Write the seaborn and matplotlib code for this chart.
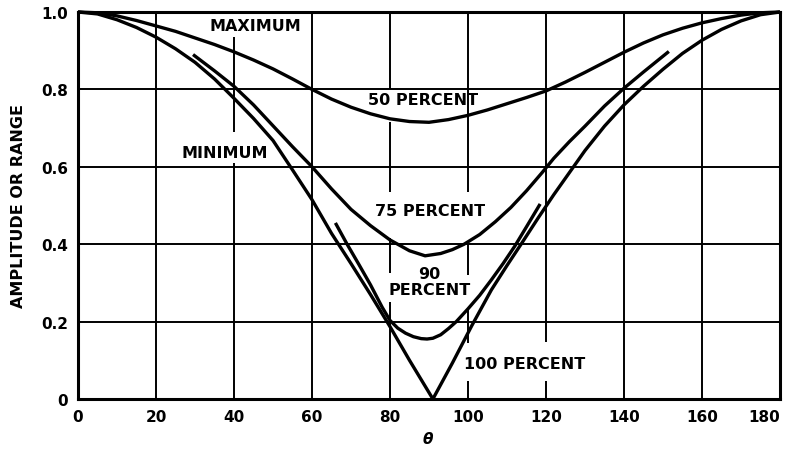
import matplotlib
matplotlib.use("Agg")
import matplotlib.pyplot as plt
import pandas as pd
import seaborn as sns

# Angle (degrees) and relative amplitude for each curve
theta_50 = [0, 5, 10, 15, 20, 25, 30, 35, 40, 45, 50, 55, 60, 65, 70, 75, 80, 85, 90,
            95, 100, 105, 110, 115, 120, 125, 130, 135, 140, 145, 150, 155, 160, 165,
            170, 175, 180]
amp_50 = [1.000, 0.998, 0.990, 0.978, 0.964, 0.950, 0.933, 0.916, 0.897, 0.876, 0.853,
          0.827, 0.800, 0.775, 0.754, 0.737, 0.724, 0.717, 0.715, 0.722, 0.733, 0.747,
          0.763, 0.779, 0.796, 0.819, 0.844, 0.870, 0.896, 0.920, 0.941, 0.958, 0.972,
          0.983, 0.992, 0.998, 1.000]

theta_75 = [29.5, 35, 40, 45, 50, 55, 60, 65, 70, 75, 80, 85, 89, 93, 96, 99, 103, 107,
            111, 115, 119, 122, 126, 130, 135, 140, 145, 151.5]
amp_75 = [0.890, 0.848, 0.808, 0.760, 0.706, 0.652, 0.600, 0.543, 0.490, 0.448, 0.411,
          0.383, 0.370, 0.376, 0.386, 0.400, 0.425, 0.458, 0.495, 0.538, 0.585, 0.622,
          0.665, 0.705, 0.757, 0.803, 0.845, 0.898]

theta_90 = [66, 69, 72, 75, 78, 80, 82, 84, 86, 88, 89.5, 91, 93, 95, 97, 100, 103, 106,
            109, 112, 115, 118.5]
amp_90 = [0.455, 0.400, 0.348, 0.295, 0.237, 0.203, 0.183, 0.170, 0.161, 0.156, 0.155,
          0.157, 0.166, 0.182, 0.200, 0.233, 0.268, 0.308, 0.350, 0.395, 0.445, 0.504]

theta_100 = [0, 5, 10, 15, 20, 25, 30, 35, 40, 45, 50, 55, 60, 65, 70, 75, 80, 85, 91,
             96, 101, 106, 110, 114, 118, 122, 126, 130, 135, 140, 145, 150, 155, 160,
             165, 170, 175, 180]
amp_100 = [1.000, 0.995, 0.980, 0.960, 0.935, 0.905, 0.870, 0.827, 0.777, 0.725, 0.668,
           0.592, 0.515, 0.428, 0.350, 0.270, 0.187, 0.100, 0.000, 0.093, 0.190, 0.282,
           0.345, 0.406, 0.468, 0.528, 0.585, 0.642, 0.705, 0.760, 0.808, 0.852, 0.893,
           0.927, 0.955, 0.977, 0.993, 1.000]

curve_names = ["50 PERCENT", "75 PERCENT", "90 PERCENT", "100 PERCENT"]

x_ticks = [0, 20, 40, 60, 80, 100, 120, 140, 160, 180]
y_ticks = [0, 0.2, 0.4, 0.6, 0.8, 1.0]
y_tick_labels = ["0", "0.2", "0.4", "0.6", "0.8", "1.0"]

frames = []
for name, th, amp in zip(curve_names,
                         [theta_50, theta_75, theta_90, theta_100],
                         [amp_50, amp_75, amp_90, amp_100]):
    frames.append(pd.DataFrame({"theta": th, "amplitude": amp, "curve": name}))
df = pd.concat(frames, ignore_index=True)

sns.set_theme(style="white")
plt.rcParams["font.family"] = ["DejaVu Sans"]

fig = plt.figure(figsize=(7.91, 4.52), dpi=100)
ax = fig.add_axes([78 / 791, 52 / 452, 702 / 791, 387 / 452])

# Grid drawn as separate segments so it stays clear of the curve labels
ink = "black"
for y in [0.2, 0.4, 0.6, 0.8]:
    ax.hlines(y, 0, 180, color=ink, lw=1.4, zorder=1)
v_segments = {
    20: [(0, 1)],
    40: [(0, 0.61), (0.69, 0.935)],
    60: [(0, 1)],
    80: [(0, 0.25), (0.325, 0.415), (0.535, 0.717), (0.80, 1)],
    100: [(0, 0.047), (0.145, 0.232), (0.32, 0.40), (0.535, 1)],
    120: [(0, 0.047), (0.147, 1)],
    140: [(0, 1)],
    160: [(0, 1)],
}
for x, segs in v_segments.items():
    for lo, hi in segs:
        ax.vlines(x, lo, hi, color=ink, lw=1.4, zorder=1)

sns.lineplot(data=df, x="theta", y="amplitude", units="curve", estimator=None,
             sort=False, color=ink, linewidth=2.4, legend=False, ax=ax)
for line in ax.lines:
    line.set_clip_on(False)
    line.set_zorder(3)
    line.set_solid_capstyle("butt")

ax.set_xlim(0, 180)
ax.set_ylim(0, 1.0)
ax.set_xticks(x_ticks)
ax.set_xticklabels([str(t) for t in x_ticks], fontweight="bold")
ax.set_yticks(y_ticks)
ax.set_yticklabels(y_tick_labels, fontweight="bold")
ax.tick_params(length=0, pad=7, labelsize=11, colors=ink)
# keep the last angle label inside the figure edge
ax.get_xticklabels()[-1].set_horizontalalignment("right")
ax.set_xlabel("")
ax.set_ylabel("")
for s in ax.spines.values():
    s.set_visible(True)
    s.set_linewidth(2.2)
    s.set_color(ink)
    s.set_zorder(4)

label_kw = dict(ha="center", va="center", fontsize=11.5, fontweight="bold", color=ink)
ax.text(45.4, 0.966, "MAXIMUM", **label_kw)
ax.text(37.6, 0.637, "MINIMUM", **label_kw)
ax.text(88.5, 0.773, "50 PERCENT", **label_kw)
ax.text(90.3, 0.488, "75 PERCENT", **label_kw)
ax.text(90.1, 0.304, "90\nPERCENT", linespacing=1.05, **label_kw)
ax.text(114.5, 0.092, "100 PERCENT", **label_kw)

fig.text(19 / 791, 1 - 206 / 452, "AMPLITUDE OR RANGE", rotation=90, ha="center",
         va="center", fontsize=11.5, fontweight="bold", color=ink)
fig.text(428 / 791, 1 - 440 / 452, "θ", ha="center", va="center", fontsize=11,
         fontstyle="italic", fontweight="bold", color=ink)

fig.savefig("out.png", dpi=100)
